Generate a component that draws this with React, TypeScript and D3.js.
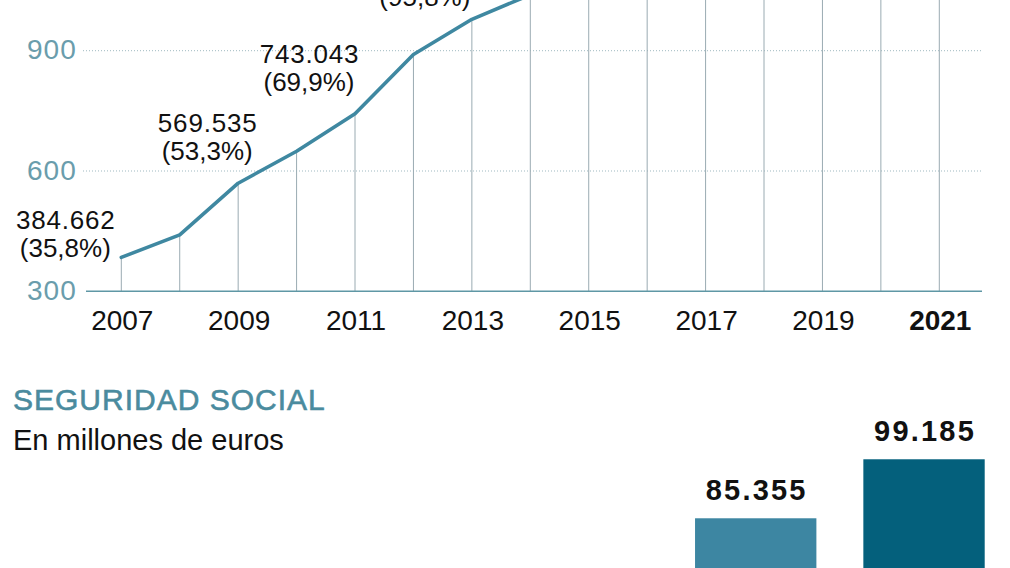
import React from "react";
import * as d3 from "d3";

// Deuda pública (miles de millones de euros) por año
const years = [2007, 2008, 2009, 2010, 2011, 2012, 2013, 2014, 2015, 2016, 2017, 2018, 2019, 2020, 2021];
const debt = [384.662, 440.621, 569.535, 649.259, 743.043, 890.727, 978.291, 1039.388, 1070.07, 1104.554, 1145.098, 1173.35, 1188.862, 1345.57, 1427.235];

// Años con etiqueta y su peso sobre el PIB (%)
const labelYears = [2007, 2009, 2011, 2013];
const labelPct = [35.8, 53.3, 69.9, 95.8];

// Eje
const yTicks = [300, 600, 900];
const xTickYears = [2007, 2009, 2011, 2013, 2015, 2017, 2019, 2021];

// Seguridad Social (millones de euros)
const ssYears = [2016, 2017, 2018, 2019, 2020, 2021];
const ssDebt = [17173, 27393, 41193, 55025, 85355, 99185];

// Colocación de cada etiqueta respecto a su punto
const labelLayout: Record<number, { dx: number; dyNum: number; dyPct: number }> = {
  2007: { dx: -56, dyNum: -28.8, dyPct: -0.8 },
  2009: { dx: -31, dyNum: -50.8, dyPct: -22.8 },
  2011: { dx: -46, dyNum: -50.8, dyPct: -22.8 },
  2013: { dx: -47, dyNum: -41.8, dyPct: -13.8 },
};

const es = d3.formatLocale({ decimal: ",", thousands: ".", grouping: [3], currency: ["", " €"] });
const fmtInt = es.format(",d");
const fmtPct = es.format(".1f");

const FONT = "'Liberation Sans', Arial, Helvetica, sans-serif";
const LINE = "#3f88a1";
const TEAL_TEXT = "#6a9dac";

export default function App() {
  const W = 1010;
  const H = 568;

  const x = d3.scaleLinear().domain([2007, 2021]).range([121.3, 939.3]);
  const y = d3.scaleLinear().domain([300, 900]).range([291.3, 50.7]);
  const y0 = y(300);

  const pts = years.map((yr, i) => [x(yr), y(debt[i])] as [number, number]);
  const linePath = d3.line()(pts) || "";

  const xb = d3.scaleBand<number>().domain(ssYears).range([21.8, 984.7]).paddingInner(0.279).paddingOuter(0);
  const yb = d3.scaleLinear().domain([0, 100000]).range([882.4, 455.8]);

  return (
    <svg
      width={W}
      height={H}
      viewBox={`0 0 ${W} ${H}`}
      style={{ position: "absolute", left: 0, top: 0, background: "#fff" }}
      fontFamily={FONT}
    >
      {/* rejilla horizontal punteada */}
      {[...yTicks, 1200].filter((t) => t > 300).map((t) => (
        <line key={`g${t}`} x1={83} x2={981} y1={y(t)} y2={y(t)} stroke="#9fb9c1" strokeWidth={1} strokeDasharray="1,2" />
      ))}

      {/* líneas verticales desde cada punto hasta el eje */}
      {pts.map(([px, py], i) => (
        <line key={`v${i}`} x1={px} x2={px} y1={py} y2={y0} stroke="#9aabb2" strokeWidth={1} />
      ))}

      {/* eje base */}
      <line x1={86} x2={982} y1={y0} y2={y0} stroke="#5f97a5" strokeWidth={1.5} />

      {/* etiquetas del eje Y */}
      {yTicks.map((t) => (
        <text key={`yt${t}`} x={27} y={y(t) + 8.5} fontSize={28} fill={TEAL_TEXT} letterSpacing={1}>
          {t}
        </text>
      ))}

      {/* etiquetas del eje X */}
      {xTickYears.map((yr) => (
        <text
          key={`xt${yr}`}
          x={x(yr) + 1}
          y={329.5}
          fontSize={28}
          textAnchor="middle"
          fill="#111"
          fontWeight={yr === 2021 ? 700 : 400}
        >
          {yr}
        </text>
      ))}

      {/* línea de deuda */}
      <path d={linePath} fill="none" stroke={LINE} strokeWidth={3.6} strokeLinejoin="round" strokeLinecap="round" />

      {/* anotaciones: importe y % del PIB en un solo bloque de texto */}
      {labelYears.map((yr, k) => {
        const i = years.indexOf(yr);
        const [px, py] = pts[i];
        const l = labelLayout[yr];
        const cx = px + l.dx;
        return (
          <text key={`a${yr}`} fill="#111" fontSize={26} textAnchor="middle">
            <tspan x={cx + 0.5} y={py + l.dyNum} letterSpacing={0.8}>
              {fmtInt(Math.round(debt[i] * 1000))}
            </tspan>
            <tspan x={cx} y={py + l.dyPct}>
              ({fmtPct(labelPct[k])}%)
            </tspan>
          </text>
        );
      })}

      {/* Seguridad Social */}
      <text x={13} y={410} fontSize={30} fill="#4a8b9e" stroke="#4a8b9e" strokeWidth={0.6} letterSpacing={1}>
        SEGURIDAD SOCIAL
      </text>
      <text x={13} y={450} fontSize={29} fill="#111">
        En millones de euros
      </text>

      {ssYears.map((yr, i) => {
        const bx = xb(yr) ?? 0;
        const top = yb(ssDebt[i]);
        return (
          <g key={`b${yr}`}>
            <rect
              x={bx}
              y={top}
              width={xb.bandwidth()}
              height={yb(0) - top}
              fill={yr === 2021 ? "#04607c" : "#3d86a2"}
            />
            <text
              x={bx + xb.bandwidth() / 2 + 1}
              y={top - 18}
              fontSize={29}
              fontWeight={700}
              textAnchor="middle"
              fill="#111"
              letterSpacing={2.2}
            >
              {fmtInt(ssDebt[i])}
            </text>
          </g>
        );
      })}
    </svg>
  );
}
